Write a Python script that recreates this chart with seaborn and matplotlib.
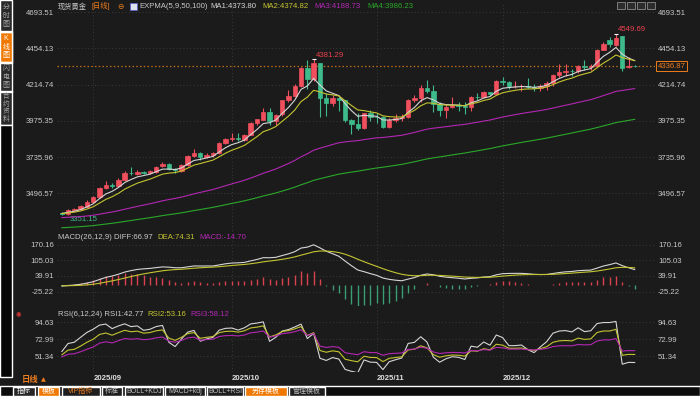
import numpy as np
import pandas as pd
import seaborn as sns
import matplotlib.pyplot as plt
import matplotlib.transforms as mtransforms
from matplotlib.patches import Rectangle

# daily candles (2025-08-25 .. 2025-12-31)
opens = [3365, 3358, 3388, 3392, 3410, 3440, 3472, 3530, 3555, 3545,
         3585, 3634, 3626, 3635, 3632, 3640, 3678, 3688, 3657, 3646,
         3685, 3742, 3765, 3735, 3748, 3760, 3828, 3856, 3862, 3850,
         3885, 3958, 3984, 4036, 3976, 4018, 4110, 4142, 4208, 4326,
         4250, 4356, 4125, 4095, 4126, 4111, 3981, 3952, 3930, 4024,
         4002, 4000, 3932, 3980, 3992, 4002, 4115, 4127, 4195, 4171,
         4084, 4045, 4066, 4078, 4075, 4065, 4135, 4131, 4165, 4155,
         4239, 4231, 4205, 4205, 4208, 4197, 4190, 4208, 4228, 4280,
         4300, 4304, 4302, 4338, 4332, 4338, 4444, 4512, 4478, 4532,
         4330, 4337]
highs = [3376, 3393, 3398, 3418, 3450, 3478, 3540, 3578, 3562, 3600,
         3646, 3673, 3648, 3645, 3648, 3680, 3703, 3697, 3665, 3690,
         3750, 3791, 3770, 3760, 3770, 3835, 3860, 3895, 3896, 3890,
         3965, 3990, 4060, 4059, 4022, 4116, 4179, 4218, 4330, 4379,
         4381.29, 4359, 4161, 4147, 4133, 4114, 3985, 4030, 4030, 4047,
         4030, 4010, 3995, 4020, 4020, 4120, 4148, 4212, 4245, 4210,
         4100, 4080, 4132, 4100, 4098, 4140, 4156, 4175, 4168, 4245,
         4264, 4240, 4241, 4216, 4260, 4218, 4218, 4237, 4285, 4353,
         4352, 4320, 4342, 4374, 4350, 4448, 4497, 4526, 4549.69, 4535,
         4398, 4341]
lows = [3351.15, 3353, 3380, 3385, 3404, 3434, 3468, 3525, 3530, 3536,
        3578, 3618, 3618, 3626, 3625, 3634, 3672, 3650, 3630, 3640,
        3680, 3735, 3718, 3728, 3740, 3755, 3820, 3845, 3840, 3840,
        3880, 3950, 3978, 3945, 3945, 4005, 4097, 4135, 4200, 4186,
        4236, 4003, 4004, 4076, 4039, 3970, 3886, 3916, 3920, 3974,
        3962, 3928, 3930, 3970, 3975, 3996, 4102, 4102, 4160, 4032,
        4004, 3997, 4060, 4038, 4022, 4040, 4110, 4125, 4140, 4153,
        4210, 4185, 4195, 4175, 4191, 4170, 4170, 4180, 4205, 4265,
        4271, 4270, 4290, 4310, 4310, 4338, 4440, 4460, 4470, 4303,
        4325, 4333]
closes = [3360, 3387, 3392, 3413, 3442, 3470, 3530, 3554, 3545, 3586,
          3634, 3628, 3640, 3632, 3642, 3673, 3690, 3658, 3648, 3684,
          3742, 3762, 3735, 3750, 3760, 3828, 3855, 3860, 3856, 3882,
          3958, 3985, 4036, 3975, 4017, 4110, 4142, 4208, 4326, 4250,
          4356, 4125, 4095, 4126, 4111, 3981, 3952, 3930, 4024, 4002,
          4000, 3932, 3980, 3992, 4002, 4115, 4127, 4195, 4171, 4084,
          4045, 4066, 4078, 4075, 4065, 4135, 4131, 4165, 4155, 4239,
          4231, 4205, 4205, 4208, 4197, 4190, 4208, 4228, 4280, 4300,
          4304, 4302, 4338, 4332, 4338, 4444, 4480, 4480, 4525, 4326,
          4338, 4336.87]

month_pos = [5, 27, 50, 70]
month_labels = ['2025/09', '2025/10', '2025/11', '2025/12']
price_ticks = [4693.51, 4454.13, 4214.74, 3975.35, 3735.96, 3496.57]
macd_ticks = [170.16, 105.03, 39.91, -25.22]
rsi_ticks = [94.63, 72.99, 51.34]

# indicator settings from the panel titles, start values read at the left edge
ema_periods = [5, 9, 50, 100]
ema_start = [3366, 3364, 3336, 3268]
macd_start = [3364, 3366, -1]       # EMA12, EMA26, DEA before the first bar
rsi_periods = [6, 12, 24]
rsi_up_start = [11.5, 9.5, 8.0]
rsi_abs_start = [18, 17, 15.5]
close_before = 3371

BG = '#1b1b1b'
UP = '#f0505e'
DOWN = '#3dbb8b'
GRID = '#3a3a3a'
TXT = '#c8c8c8'
WHITE = '#d6d6d6'
YEL = '#c4c432'
MAG = '#b327b3'
GRN = '#2aa82a'
ORANGE = '#ee7d1e'


def ema(vals, n, start):
    k = 2 / (n + 1)
    out, prev = [], start
    for v in vals:
        prev = prev + k * (v - prev)
        out.append(prev)
    return np.array(out)


def sma(vals, n, start):
    out, prev = [], start
    for v in vals:
        prev = (v + (n - 1) * prev) / n
        out.append(prev)
    return np.array(out)


df = pd.DataFrame({'i': np.arange(len(closes)), 'open': opens, 'high': highs,
                   'low': lows, 'close': closes})
for n, s in zip(ema_periods, ema_start):
    df[f'ema{n}'] = ema(df['close'], n, s)
df['diff'] = ema(df['close'], 12, macd_start[0]) - ema(df['close'], 26, macd_start[1])
df['dea'] = ema(df['diff'], 9, macd_start[2])
df['macd'] = 2 * (df['diff'] - df['dea'])
chg = np.diff(np.r_[close_before, df['close'].values])
for n, u, a in zip(rsi_periods, rsi_up_start, rsi_abs_start):
    df[f'rsi{n}'] = sma(np.maximum(chg, 0), n, u) / sma(np.abs(chg), n, a) * 100

sns.set_theme(style='dark', rc={'figure.facecolor': BG, 'axes.facecolor': BG})
plt.rcParams['font.family'] = ['Liberation Sans', 'Noto Sans CJK SC', 'DejaVu Sans']

fig = plt.figure(figsize=(7, 3.96), dpi=100)
W, H = 700, 396


def panel(y0, y1, ticks, lim):
    ax = fig.add_axes([57 / W, 1 - y1 / H, 598 / W, (y1 - y0) / H])
    ax.set_facecolor(BG)
    for s in ax.spines.values():
        s.set_visible(False)
    ax.set_xlim(-0.75, 94.2)
    ax.set_ylim(*lim)
    ax.set_yticks(ticks)
    ax.set_yticklabels([f'{t:.2f}' for t in ticks])
    ax.tick_params(axis='y', length=0, labelleft=True, labelright=True,
                   labelsize=5.6, labelcolor=TXT, pad=2.2)
    ax.set_xticks(month_pos)
    ax.tick_params(axis='x', length=0, labelbottom=False)
    ax.grid(True, color=GRID, ls=(0, (1, 2.5)), lw=0.7)
    return ax


def ftext(x, y, s, color=TXT, size=5.6, **kw):
    fig.text(x / W, 1 - y / H, s, color=color, fontsize=size, ha=kw.pop('ha', 'left'),
             va='center', **kw)


def frect(x0, y0, x1, y1, **kw):
    fig.patches.append(Rectangle((x0 / W, 1 - y1 / H), (x1 - x0) / W, (y1 - y0) / H,
                                 transform=fig.transFigure, figure=fig, **kw))


ax_main = panel(4, 230, price_ticks, (3255.1, 4746.3))
ax_macd = panel(230, 306, macd_ticks, (-85.8, 231.9))
ax_rsi = panel(306, 372, rsi_ticks, (30.8, 115.6))

# candles
cols = [UP if c >= o else DOWN for o, c in zip(df['open'], df['close'])]
ax_main.vlines(df['i'], df['low'], df['high'], colors=cols, lw=0.8, zorder=2)
ax_main.bar(df['i'], (df['close'] - df['open']).abs(),
            bottom=df[['open', 'close']].min(axis=1), width=0.7,
            color=cols, edgecolor=cols, linewidth=0.5, zorder=3)

for n, c in zip(ema_periods, [WHITE, YEL, MAG, GRN]):
    sns.lineplot(data=df, x='i', y=f'ema{n}', ax=ax_main, color=c, lw=0.8, zorder=4)

last = df['close'].iloc[-1]
ax_main.axhline(last, color='#c0701e', lw=0.9, ls=(0, (1.2, 1.8)), zorder=1)
bt = mtransforms.blended_transform_factory(ax_main.transAxes, ax_main.transData)
ax_main.text(1.004, last, f'{last:.2f}', transform=bt, ha='left', va='center',
             fontsize=5.6, color=ORANGE,
             bbox=dict(boxstyle='square,pad=0.18', fc=BG, ec=ORANGE, lw=0.7))

# extreme price labels
i_peak1 = int(df['high'].iloc[:60].idxmax())
i_peak2 = int(df['high'].idxmax())
i_low = int(df['low'].idxmin())
for i, dx in [(i_peak1, 0.4), (i_peak2, 0.3)]:
    ax_main.plot(i, df['high'][i], marker='_', color='white', ms=3, mew=0.8, zorder=5)
    ax_main.text(i + dx, df['high'][i] + 3, f"{df['high'][i]:.2f}", color='#e8414f',
                 fontsize=5.6, ha='left', va='bottom')
ax_main.text(i_low + 1.3, df['low'][i_low] - 6, f"{df['low'][i_low]:.2f}",
             color='#3dbb8b', fontsize=5.6, ha='left', va='top')

# MACD
mcols = ['#d9434f' if m >= 0 else '#3a9e73' for m in df['macd']]
ax_macd.vlines(df['i'], 0, df['macd'], colors=mcols, lw=1.0, zorder=2)
sns.lineplot(data=df, x='i', y='diff', ax=ax_macd, color=WHITE, lw=0.8, zorder=3)
sns.lineplot(data=df, x='i', y='dea', ax=ax_macd, color=YEL, lw=0.8, zorder=3)

# RSI
for n, c in zip(rsi_periods, [WHITE, YEL, MAG]):
    sns.lineplot(data=df, x='i', y=f'rsi{n}', ax=ax_rsi, color=c, lw=0.8)

for ax in (ax_main, ax_macd, ax_rsi):
    ax.set_xlabel('')
    ax.set_ylabel('')

ax_rsi.set_xticklabels(month_labels)
ax_rsi.tick_params(axis='x', labelbottom=True, labelsize=5.6, labelcolor='#e0e0e0', pad=2.5)
for lbl in ax_rsi.get_xticklabels():
    lbl.set_ha('left')
    lbl.set_fontweight('bold')

# header lines
ftext(58, 6.5, '现货黄金', TXT, 5.2)
ftext(91, 6.5, '[日线]', ORANGE, 5.2)
ftext(117, 6.5, '⊖', ORANGE, 5.5, family=['DejaVu Sans'])
frect(130, 2.5, 137, 10, fc='#dfe3f0', ec='#5a64c8', lw=0.6)
ftext(139, 6.5, 'EXPMA(5,9,50,100)')
ftext(210, 6.5, 'MA1:4373.80', WHITE)
ftext(262, 6.5, 'MA2:4374.82', YEL)
ftext(314, 6.5, 'MA3:4188.73', MAG)
ftext(367, 6.5, 'MA4:3986.23', GRN)

ftext(58, 237.5, 'MACD(26,12,9) DIFF:66.97')
ftext(157, 237.5, 'DEA:74.31', YEL)
ftext(199, 237.5, 'MACD:-14.70', MAG)

ftext(58, 315, 'RSI(6,12,24) RSI1:42.77')
ftext(147, 315, 'RSI2:53.16', YEL)
ftext(190, 315, 'RSI3:58.12', MAG)
ftext(18, 313.5, '◉', '#e03838', 4.5, ha='center', family=['DejaVu Sans'])

for x0 in [617, 627, 637, 647]:
    frect(x0, 2, x0 + 8, 9, fc='#2c2c2c', ec='#8a8a8a', lw=0.6)

# left tab strip
frect(0, 0, 12, 125, fc='#2a2a2a')
frect(0, 125, 12, 377, fc='#060606')
frect(0, 32, 12, 62, fc='#f07800')
for y in (31.5, 62.5, 91.5):
    frect(0, y - 0.5, 12, y + 0.5, fc='#121212')
for txt, yc, c, fs, ls in [('分\n时\n图', 16, '#a8a8a8', 5.0, 1.3), ('K\n线\n图', 47, 'white', 5.0, 1.3),
                           ('闪\n电\n图', 77, '#a8a8a8', 5.0, 1.3),
                           ('合\n约\n资\n料', 108, '#a8a8a8', 4.8, 1.12)]:
    ftext(6, yc, txt, c, fs, ha='center', linespacing=ls, multialignment='center')

ftext(22, 380, '日线', ORANGE, 6.0, fontweight='bold')
ftext(43, 379.5, '▲', ORANGE, 4.6, ha='center', family=['DejaVu Sans'])

# bottom toolbar
frect(0, 386, 700, 396, fc='#0c0c0c')
tools = [('指标', 13, 35, '#262626', 'white'), ('模板', 38, 59, '#f07800', 'white'),
         ('VIP指标', 62, 100, '#1e1e1e', ORANGE), ('标准', 102, 122, '#1e1e1e', '#bdbdbd'),
         ('BOLL+KDJ', 125, 163, '#1e1e1e', '#bdbdbd'), ('MACD+kdj', 165, 205, '#1e1e1e', '#bdbdbd'),
         ('BOLL+RSI', 207, 243, '#1e1e1e', '#bdbdbd'), ('另存模板', 245, 287, '#f07800', 'white'),
         ('管理模板', 289, 325, '#1e1e1e', '#bdbdbd')]
for name, x0, x1, fc, tc in tools:
    frect(x0, 387, x1, 396, fc=fc)
    ftext((x0 + x1) / 2, 391.5, name, tc, 5.0, ha='center')

fig.savefig('out.png', dpi=100, facecolor=BG)
